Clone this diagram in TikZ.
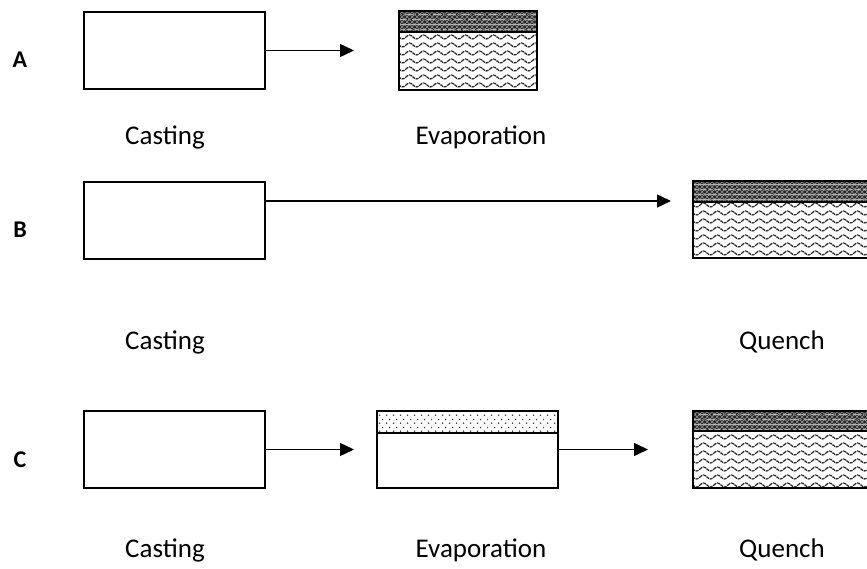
\documentclass[tikz,border=0pt]{standalone}
\usepackage{fontspec}
\setmainfont{Carlito}
\usetikzlibrary{patterns,arrows.meta}

% wavy lines for the quenched film body
\pgfdeclarepatternformonly{waves}{\pgfpoint{-1pt}{-1pt}}{\pgfpoint{15pt}{9pt}}{\pgfpoint{14pt}{8pt}}{%
  \pgfsetlinewidth{1.2pt}%
  \pgfsetdash{{3pt}{0.8pt}}{0pt}%
  \pgfpathmoveto{\pgfpoint{0pt}{4pt}}%
  \pgfpathcurveto{\pgfpoint{2.3pt}{6.6pt}}{\pgfpoint{4.7pt}{6.6pt}}{\pgfpoint{7pt}{4pt}}%
  \pgfpathcurveto{\pgfpoint{9.3pt}{1.4pt}}{\pgfpoint{11.7pt}{1.4pt}}{\pgfpoint{14pt}{4pt}}%
  \pgfusepath{stroke}}

% dark skin layer with a light diamond lattice
\pgfdeclarepatterninherentlycolored{darkdiamonds}{\pgfpoint{0pt}{0pt}}{\pgfpoint{5pt}{5pt}}{\pgfpoint{5pt}{5pt}}{%
  \pgfsetfillcolor{black!85}%
  \pgfpathrectangle{\pgfpoint{0pt}{0pt}}{\pgfpoint{5pt}{5pt}}%
  \pgfusepath{fill}%
  \pgfsetstrokecolor{black!40}%
  \pgfsetlinewidth{0.7pt}%
  \pgfpathmoveto{\pgfpoint{0pt}{0pt}}\pgfpathlineto{\pgfpoint{5pt}{5pt}}%
  \pgfpathmoveto{\pgfpoint{0pt}{5pt}}\pgfpathlineto{\pgfpoint{5pt}{0pt}}%
  \pgfusepath{stroke}}

% staggered dots for the evaporated top layer
\pgfdeclarepatternformonly{dotgrid}{\pgfpoint{0pt}{0pt}}{\pgfpoint{7pt}{8pt}}{\pgfpoint{7pt}{8pt}}{%
  \pgfpathcircle{\pgfpoint{1.75pt}{2pt}}{0.9pt}%
  \pgfpathcircle{\pgfpoint{5.25pt}{6pt}}{0.9pt}%
  \pgfusepath{fill}}

\tikzset{
  plainbox/.style={draw, line width=1.8pt, fill=white, inner sep=0pt, outer sep=0pt,
    minimum width=181pt, minimum height=77pt},
  filmbox/.style={draw, line width=1.8pt, inner sep=0pt, outer sep=0pt,
    pattern=waves, pattern color=black!85},
  skinband/.style={draw, line width=1.8pt, inner sep=0pt, outer sep=0pt,
    pattern=darkdiamonds},
  dotband/.style={draw, line width=1.5pt, inner sep=0pt, outer sep=0pt,
    pattern=dotgrid, pattern color=black!80},
  flow/.style={line width=1.4pt, -{Triangle[length=14pt,width=13pt]}},
  rowlabel/.style={font=\fontsize{24}{29}\selectfont\bfseries, inner sep=0pt},
  caption/.style={font=\fontsize{27}{32}\selectfont, inner sep=0pt}
}

\begin{document}
\begin{tikzpicture}[x=1pt, y=-1pt]
  \clip (0,0) rectangle (867,569);
  \fill[white] (0,0) rectangle (867,569);

  % ---- row A: casting, then evaporation ----
  \node[rowlabel] (labA) at (20,60) {A};
  \node[plainbox] (castA) at (174.5,50.5) {};
  \node[filmbox, minimum width=138pt, minimum height=79pt] (filmA) at (468,50.5) {};
  \node[skinband, minimum width=138pt, minimum height=21pt] (skinA) at (468,21.5) {};
  \coordinate (tipA) at (354,50.5);
  \draw[flow] (castA.east) -- (tipA);
  \node[caption] (capA1) at (165,137) {Casting};
  \node[caption] (capA2) at (481,137) {Evaporation};

  % ---- row B: casting, then quench ----
  \node[rowlabel] (labB) at (20,230) {B};
  \node[plainbox] (castB) at (174.5,220.5) {};
  \node[filmbox, minimum width=176pt, minimum height=77pt] (filmB) at (781,219.5) {};
  \node[skinband, minimum width=176pt, minimum height=21pt] (skinB) at (781,191.5) {};
  \coordinate (tipB) at (671,201);
  \draw[flow] (castB.east |- tipB) -- (tipB);
  \node[caption] (capB1) at (165,342) {Casting};
  \node[caption] (capB2) at (782,342) {Quench};

  % ---- row C: casting, evaporation, quench ----
  \node[rowlabel] (labC) at (20,460) {C};
  \node[plainbox] (castC) at (174.5,449.5) {};
  \node[plainbox] (evapC) at (467.5,449.5) {};
  \node[dotband, minimum width=181pt, minimum height=22pt] (skinC) at (467.5,422) {};
  \node[filmbox, minimum width=176pt, minimum height=77pt] (filmC) at (781,449.5) {};
  \node[skinband, minimum width=176pt, minimum height=20pt] (skinC2) at (781,421) {};
  \coordinate (tipC1) at (354,449.5);
  \coordinate (tipC2) at (648,449.5);
  \draw[flow] (castC.east) -- (tipC1);
  \draw[flow] (evapC.east) -- (tipC2);
  \node[caption] (capC1) at (165,550) {Casting};
  \node[caption] (capC2) at (481,550) {Evaporation};
  \node[caption] (capC3) at (782,550) {Quench};
\end{tikzpicture}
\end{document}
